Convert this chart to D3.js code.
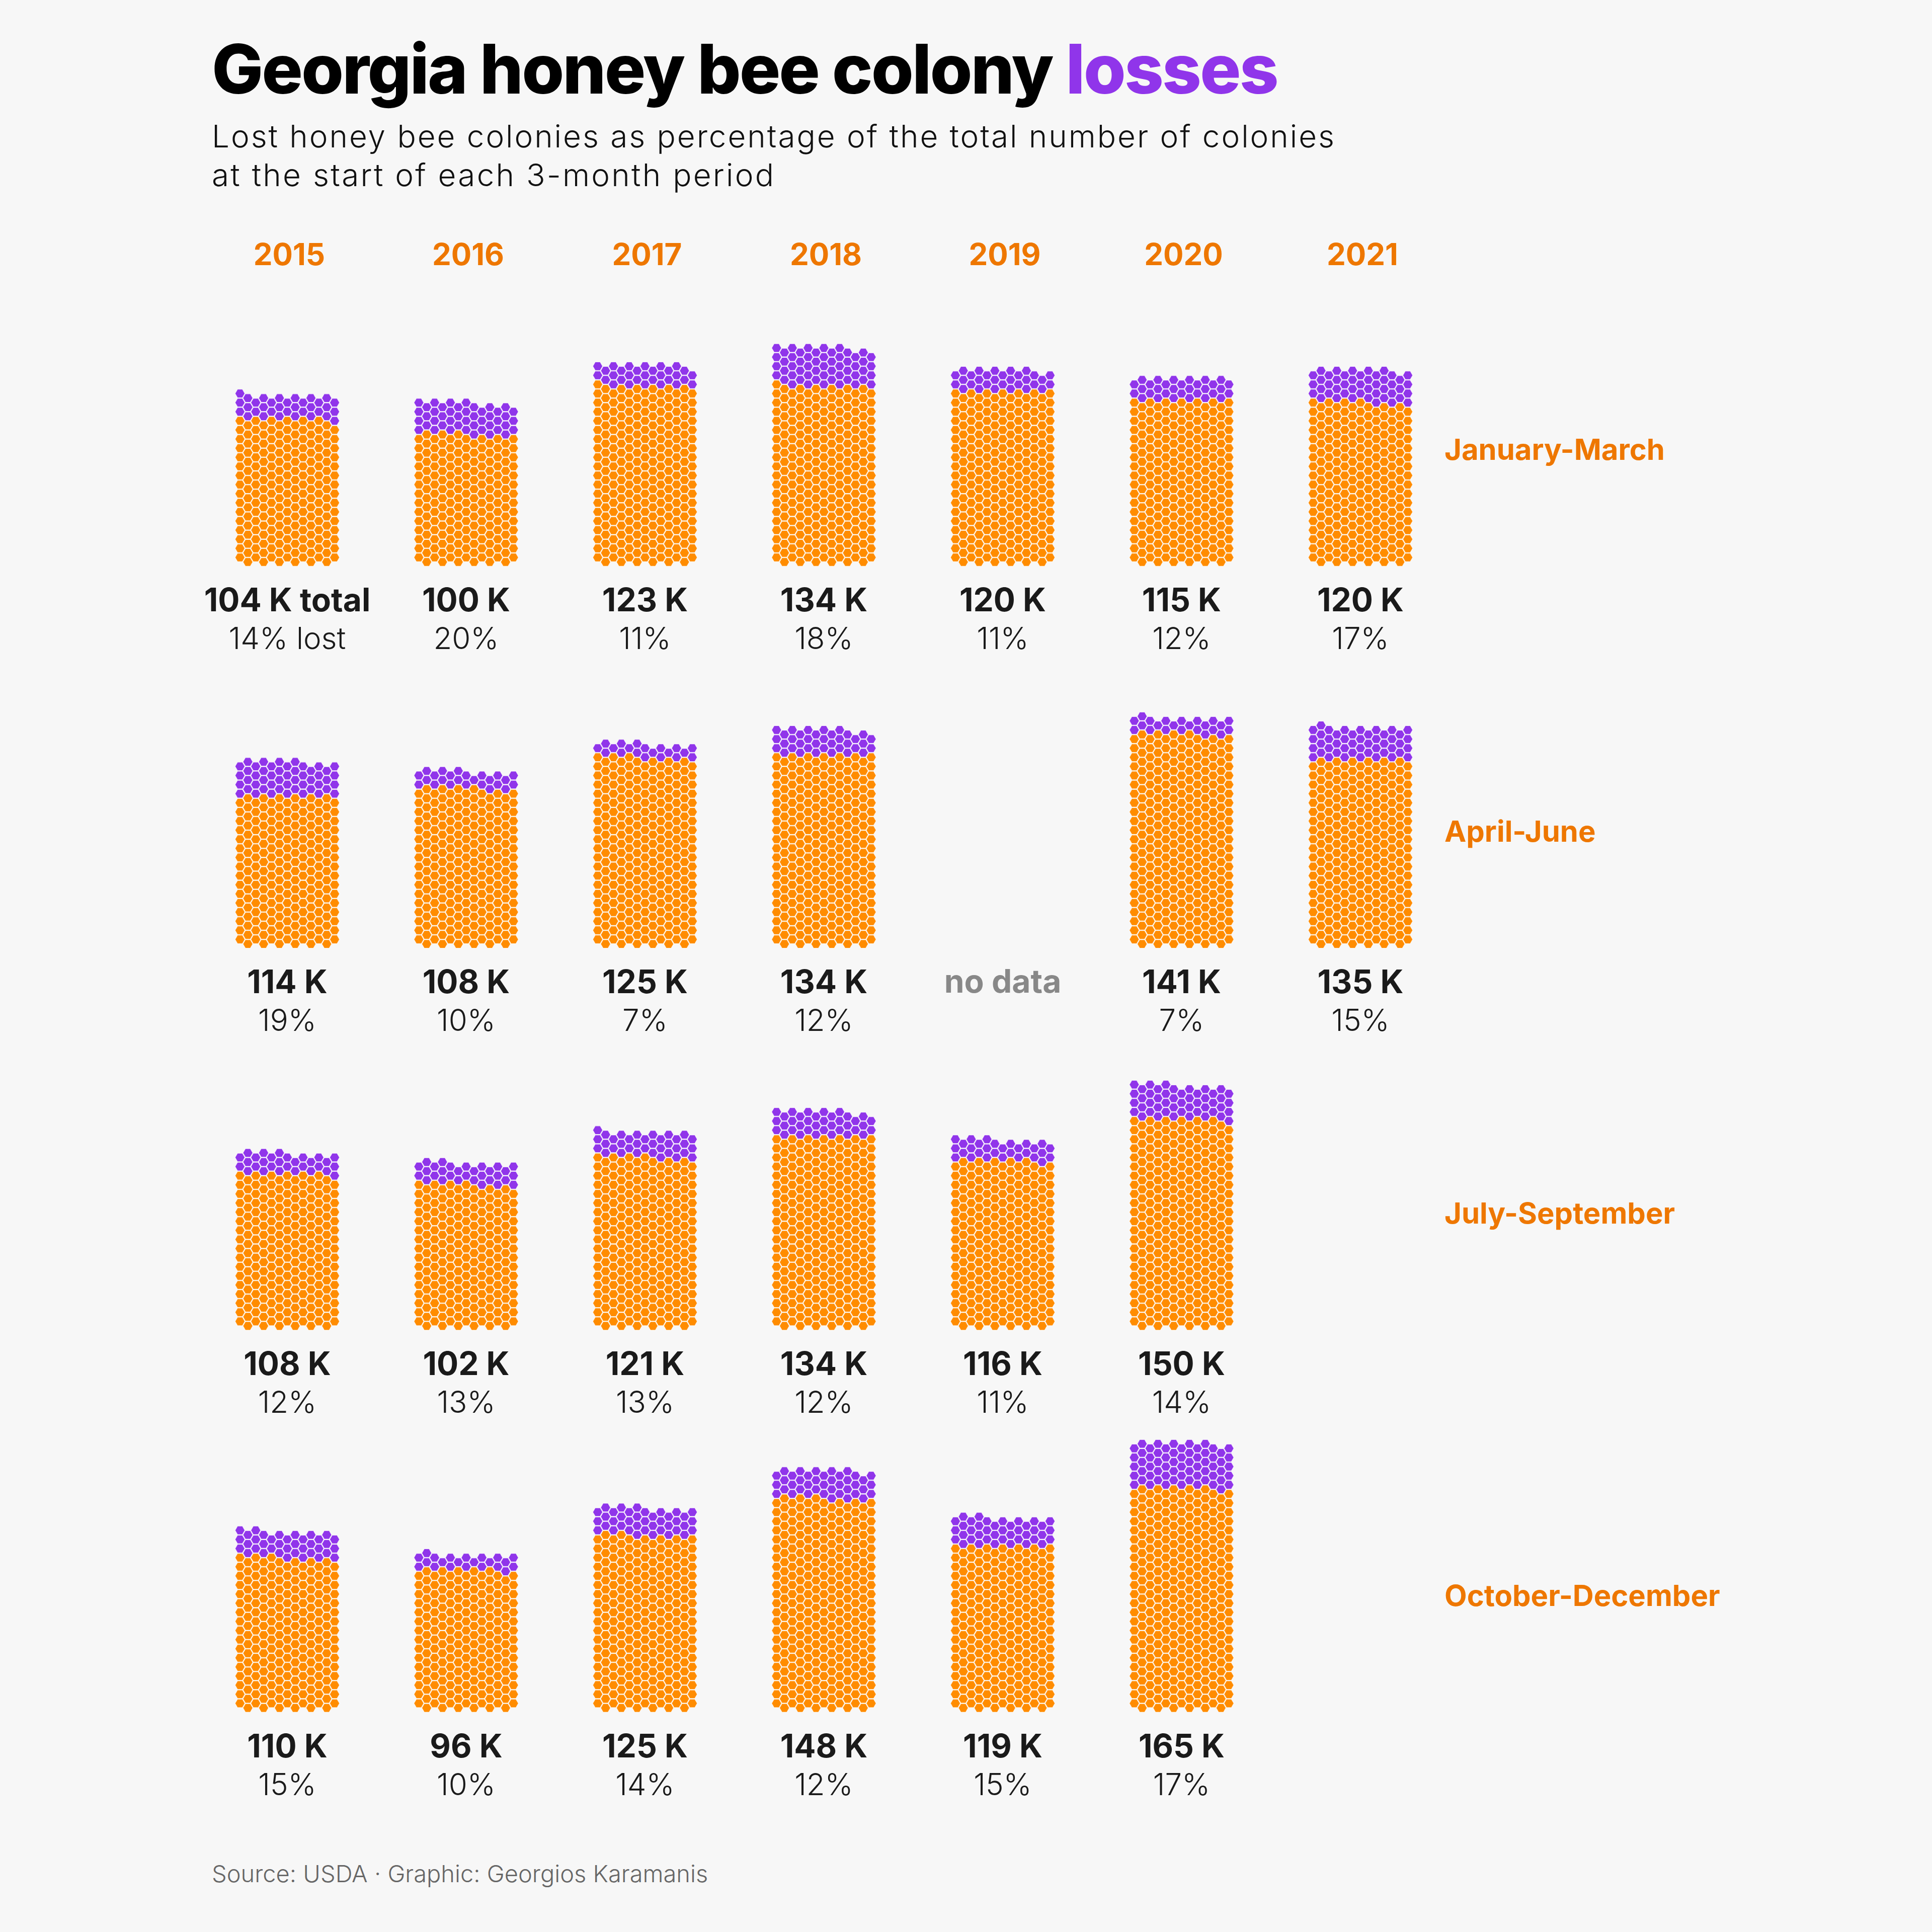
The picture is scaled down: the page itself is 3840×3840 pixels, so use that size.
<!DOCTYPE html>
<html>
<head>
<meta charset="utf-8">
<script src="https://cdn.jsdelivr.net/npm/d3@7"></script>
<style>
  body { margin: 0; background: #f7f7f7; }
  text { font-family: Inter, "Noto Sans", sans-serif; }
</style>
</head>
<body>
<div class="chart"></div>
<script>
// colonies in thousands, lost as % of colonies at the start of the period
const years = [2015, 2016, 2017, 2018, 2019, 2020, 2021];
const quarters = ["January-March", "April-June", "July-September", "October-December"];
const totals = [
  [104, 100, 123, 134, 120, 115, 120],
  [114, 108, 125, 134, null, 141, 135],
  [108, 102, 121, 134, 116, 150, null],
  [110, 96, 125, 148, 119, 165, null]
];
const lostPct = [
  [14, 20, 11, 18, 11, 12, 17],
  [19, 10, 7, 12, null, 7, 15],
  [12, 13, 13, 12, 11, 14, null],
  [15, 10, 14, 12, 15, 17, null]
];
const missing = [[1, 4]]; // quarter, year index shown as "no data"

const W = 3840, H = 3840;
const orange = "#ff8c00", purple = "#9035ea", labelOrange = "#ee7700";

// one hexagon = this many colonies
const perHex = 432;
const nCols = 13;
const R = 10.45;                 // grid radius
const colStep = 1.5 * R;
const rowStep = Math.sqrt(3) * R;

var svg = d3.select(".chart").append("svg")
  .attr("width", W)
  .attr("height", H)
  .style("background", "#f7f7f7");

var x = d3.scaleLinear().domain([0, years.length - 1]).range([571, 571 + 6 * 355.5]);
var y = d3.scaleLinear().domain([0, quarters.length - 1]).range([1117, 1117 + 3 * 759.2]); // lowest hex centre

// title
var title = svg.append("text")
  .attr("x", 421).attr("y", 186)
  .attr("font-size", 136).attr("font-weight", 800)
  .attr("letter-spacing", -3)
  .attr("fill", "#000");
title.append("tspan").text("Georgia honey bee colony ");
title.append("tspan").attr("fill", purple).text("losses");

svg.append("text")
  .attr("x", 421).attr("y", 293)
  .attr("font-size", 62).attr("font-weight", 300)
  .attr("textLength", 2231).attr("lengthAdjust", "spacing")
  .attr("fill", "#111")
  .text("Lost honey bee colonies as percentage of the total number of colonies");
svg.append("text")
  .attr("x", 421).attr("y", 370)
  .attr("font-size", 62).attr("font-weight", 300)
  .attr("textLength", 1117).attr("lengthAdjust", "spacing")
  .attr("fill", "#111")
  .text("at the start of each 3-month period");

// year labels
svg.selectAll(".year")
  .data(years)
  .join("text")
  .attr("class", "year")
  .attr("x", (d, i) => x(i) + 4)
  .attr("y", 527)
  .attr("text-anchor", "middle")
  .attr("font-size", 60).attr("font-weight", 700)
  .attr("fill", labelOrange)
  .text(d => d);

// quarter labels
svg.selectAll(".quarter")
  .data(quarters)
  .join("text")
  .attr("class", "quarter")
  .attr("x", 2871)
  .attr("y", (d, i) => y(i) - 203)
  .attr("font-size", 58).attr("font-weight", 700)
  .attr("fill", labelOrange)
  .text(d => d);

var hexPath = (function () {
  var r = R * 0.93;
  var pts = d3.range(6).map(k => [r * Math.cos(k * Math.PI / 3), r * Math.sin(k * Math.PI / 3)]);
  return "M" + pts.map(p => p.join(",")).join("L") + "Z";
})();

// hex position for the i-th colony unit (bottom-up, left to right, odd columns first)
function hexPos(i) {
  var p = Math.floor(i / nCols), r = i % nCols;
  var odd = Math.floor(nCols / 2);
  var col, dy;
  if (r < odd) { col = 2 * r + 1; dy = p * rowStep; }
  else { col = 2 * (r - odd); dy = p * rowStep + rowStep / 2; }
  return [(col - (nCols - 1) / 2) * colStep, -dy];
}

var cells = [];
quarters.forEach((q, qi) => {
  years.forEach((yr, yi) => {
    var t = totals[qi][yi];
    if (t == null) return;
    var n = Math.round(t * 1000 / perHex);
    var lost = Math.round(n * lostPct[qi][yi] / 100);
    cells.push({ qi: qi, yi: yi, n: n, lost: lost, total: t, pct: lostPct[qi][yi] });
  });
});

var groups = svg.selectAll(".cell")
  .data(cells)
  .join("g")
  .attr("class", "cell")
  .attr("transform", d => `translate(${x(d.yi)}, ${y(d.qi)})`);

groups.selectAll("path")
  .data(d => d3.range(d.n).map(i => ({ i: i, lost: i >= d.n - d.lost })))
  .join("path")
  .attr("d", hexPath)
  .attr("transform", d => `translate(${hexPos(d.i)})`)
  .attr("fill", d => d.lost ? purple : orange)
  .attr("stroke", "#fff")
  .attr("stroke-opacity", 0.7)
  .attr("stroke-width", 1.2);

groups.append("text")
  .attr("y", 98)
  .attr("text-anchor", "middle")
  .attr("font-size", 64).attr("font-weight", 700)
  .attr("fill", "#1a1a1a")
  .text(d => (d.qi === 0 && d.yi === 0) ? d.total + " K total" : d.total + " K");

groups.append("text")
  .attr("y", 173)
  .attr("text-anchor", "middle")
  .attr("font-size", 60).attr("font-weight", 300)
  .attr("fill", "#1a1a1a")
  .text(d => (d.qi === 0 && d.yi === 0) ? d.pct + "% lost" : d.pct + "%");

svg.selectAll(".nodata")
  .data(missing)
  .join("text")
  .attr("class", "nodata")
  .attr("x", d => x(d[1]))
  .attr("y", d => y(d[0]) + 97)
  .attr("text-anchor", "middle")
  .attr("font-size", 64).attr("font-weight", 700)
  .attr("fill", "#888")
  .text("no data");

svg.append("text")
  .attr("x", 421).attr("y", 3741)
  .attr("font-size", 47).attr("font-weight", 300)
  .attr("fill", "#666")
  .text("Source: USDA \u00b7 Graphic: Georgios Karamanis");
</script>
</body>
</html>
